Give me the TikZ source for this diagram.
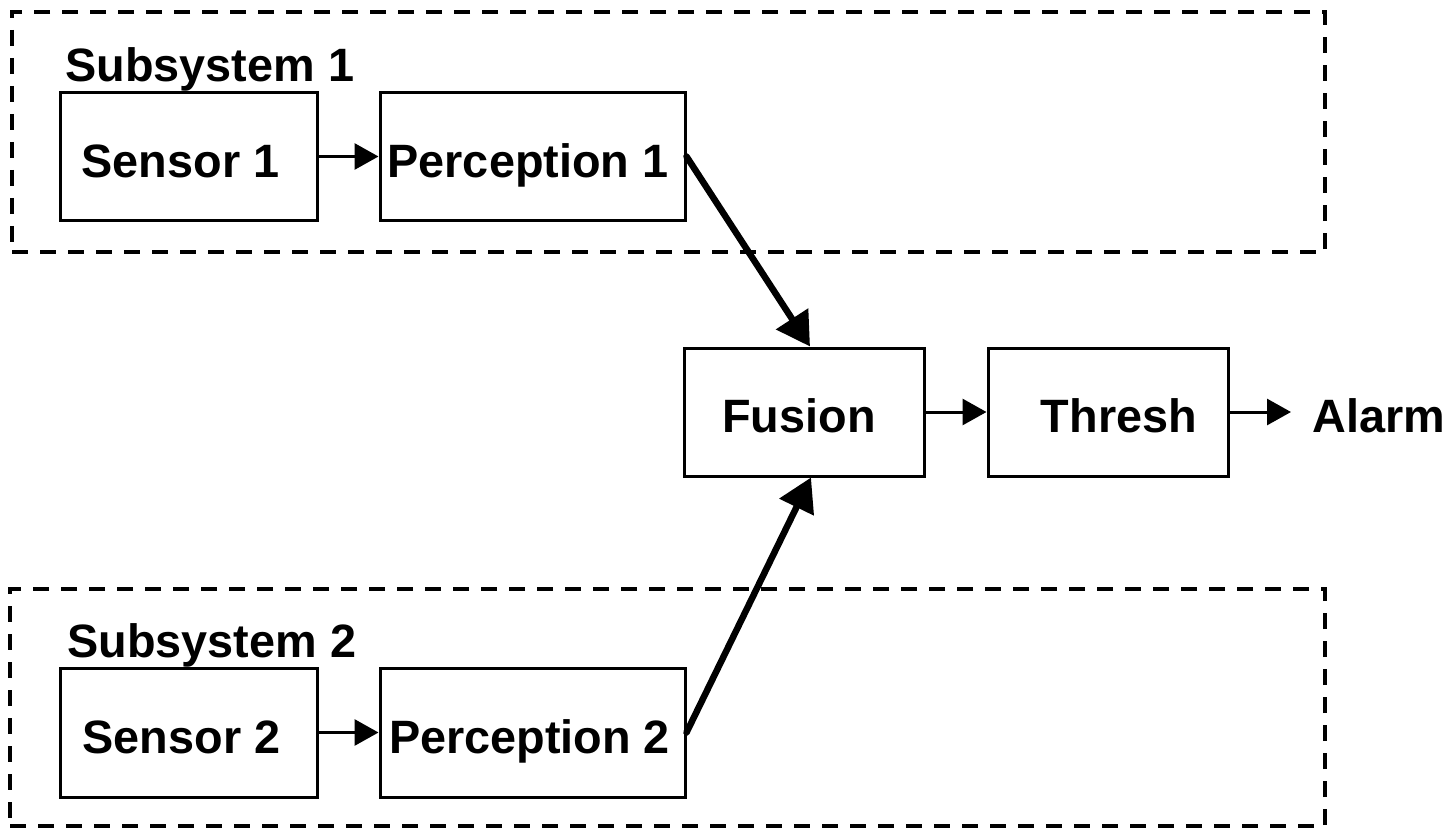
\documentclass[tikz,border=0pt]{standalone}
\usepackage{fontspec}
\setmainfont{Liberation Sans}
\usetikzlibrary{arrows.meta,calc}
\begin{document}
\begin{tikzpicture}[x=0.5pt,y=-0.5pt,
  every node/.style={font=\fontsize{23.4}{28}\selectfont\bfseries},
  block/.style={draw, line width=1.5pt, rectangle, text height=20.5pt, text depth=0pt, inner sep=0pt, minimum height=64pt},
  group/.style={draw, line width=1.75pt, dash pattern=on 8pt off 6pt, rectangle, inner sep=0pt},
  thinarrow/.style={line width=1.5pt, -{Triangle[length=12pt,width=13pt]}},
  thickarrow/.style={line width=3.25pt, line cap=round, -{Triangle[length=16.5pt,width=18.5pt]}},
  lbl/.style={anchor=base west, inner sep=0pt}]
\useasboundingbox (0,0) rectangle (1453,829);
% subsystem frames
\node[group, minimum width=656.5pt, minimum height=120pt] (sub1) at (668.5,132) {};
\node[group, minimum width=657.5pt, minimum height=118.5pt] (sub2) at (667.5,707.5) {};
\node[lbl] (sub1lbl) at (65,82) {Subsystem 1};
\node[lbl] (sub2lbl) at (67,657) {Subsystem 2};
% blocks
\node[block, minimum width=128.5pt] (s1) at (188.5,156.5) {\hspace*{-8pt}Sensor 1};
\node[block, minimum width=152.5pt] (p1) at (532.5,156.5) {\hspace*{-4.5pt}Perception 1};
\node[block, minimum width=128.5pt, minimum height=64.5pt] (s2) at (188.5,732.5) {\hspace*{-7pt}Sensor 2};
\node[block, minimum width=152.5pt, minimum height=64.5pt] (p2) at (532.5,732.5) {\hspace*{-3pt}Perception 2};
\node[block, minimum width=120pt] (fus) at (804,412) {\hspace*{-5pt}Fusion};
\node[block, minimum width=120pt] (thr) at (1108,412) {\hspace*{11pt}Thresh};
\node[anchor=base west, inner ysep=0pt, inner xsep=10.5pt] (alarm) at (1291,432) {Alarm};
% connectors
\draw[thinarrow] (s1.east) -- (p1.west);
\draw[thinarrow] (s2.east) -- (p2.west);
\draw[thinarrow] (fus.east) -- (thr.west);
\draw[thinarrow] (thr.east) -- (thr.east -| alarm.west);
\draw[thickarrow] (p1.east) -- ($(fus.north)+(6,0)$);
\draw[thickarrow] (p2.east) -- ($(fus.south)+(7,0)$);
\end{tikzpicture}
\end{document}
